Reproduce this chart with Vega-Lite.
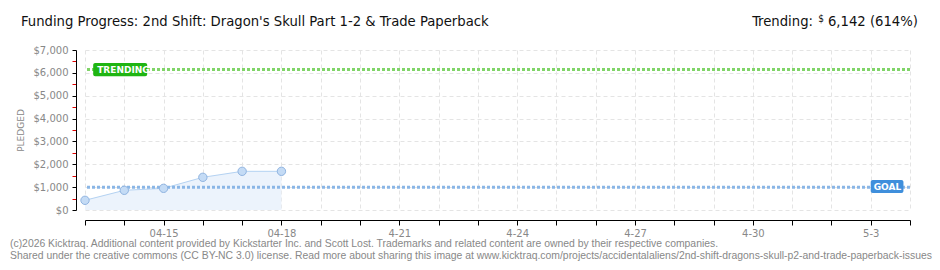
{
  "$schema": "https://vega.github.io/schema/vega-lite/v6.json",
  "width": 825,
  "height": 160,
  "autosize": {"type": "none"},
  "padding": {"left": 85, "top": 50, "right": 30, "bottom": 60},
  "background": "white",
  "config": {"view": {"stroke": null}},
  "datasets": {
    "pledges": [
      {"date": "2026-04-13", "pledged": 424},
      {"date": "2026-04-14", "pledged": 861},
      {"date": "2026-04-15", "pledged": 948},
      {"date": "2026-04-16", "pledged": 1430},
      {"date": "2026-04-17", "pledged": 1692},
      {"date": "2026-04-18", "pledged": 1692}
    ]
  },
  "layer": [
    {
      "data": {"name": "pledges"},
      "mark": {"type": "area", "color": "#ecf3fc", "opacity": 1},
      "encoding": {
        "x": {
          "field": "date", "type": "temporal",
          "scale": {"type": "utc", "domain": [{"year": 2026, "month": 4, "date": 13, "utc": true}, {"year": 2026, "month": 5, "date": 4, "utc": true}]},
          "axis": {
            "title": null,
            "offset": 10,
            "tickCount": {"interval": "day", "step": 1},
            "labelExpr": "indexof(['04-15','04-18'], utcFormat(datum.value,'%m-%d')) >= 0 ? utcFormat(datum.value,'%m-%d') : (indexof(['04-21','04-24','04-27','04-30','05-03'], utcFormat(datum.value,'%m-%d')) >= 0 ? utcFormat(datum.value,'%-m-%-d') : '')",
            "labelOverlap": false,
            "labelBound": false,
            "labelFlush": false,
            "labelFont": "DejaVu Sans",
            "labelFontSize": 10,
            "labelColor": "#888",
            "labelPadding": 3,
            "domainColor": "#000",
            "tickColor": "#000",
            "tickSize": 5,
            "grid": true,
            "gridColor": "#e4e4e4",
            "gridDash": [4, 3]
          }
        },
        "y": {
          "field": "pledged", "type": "quantitative",
          "scale": {"domain": [0, 7000], "nice": false},
          "axis": {
            "title": "PLEDGED",
            "titleFont": "DejaVu Sans",
            "titleFontSize": 9,
            "titleFontWeight": "normal",
            "titleColor": "#888",
            "titlePadding": 8,
            "offset": 9,
            "tickCount": 14,
            "labelExpr": "datum.value % 1000 == 0 ? '$' + format(datum.value, ',') : ''",
            "labelOverlap": false,
            "labelBound": false,
            "labelFlush": false,
            "labelFont": "DejaVu Sans",
            "labelFontSize": 10,
            "labelColor": "#888",
            "labelPadding": 4,
            "domainColor": "#000",
            "tickColor": {"condition": {"test": "datum.value % 1000 == 0", "value": "#000"}, "value": "#e00000"},
            "tickSize": 4,
            "grid": true,
            "gridColor": "#e4e4e4",
            "gridDash": [4, 3],
            "gridOpacity": {"condition": {"test": "datum.value % 1000 == 0", "value": 1}, "value": 0}
          }
        }
      }
    },
    {
      "data": {"name": "pledges"},
      "mark": {"type": "line", "color": "#b4d2f2", "strokeWidth": 1},
      "encoding": {
        "x": {"field": "date", "type": "temporal"},
        "y": {"field": "pledged", "type": "quantitative"}
      }
    },
    {
      "data": {"values": [{}]},
      "mark": {"type": "rule", "color": "#8ab6e6", "strokeWidth": 3, "strokeDash": [3, 2]},
      "encoding": {"y": {"datum": 1000, "type": "quantitative"}}
    },
    {
      "data": {"values": [{}]},
      "mark": {"type": "rule", "color": "#80d468", "strokeWidth": 3, "strokeDash": [3, 2]},
      "encoding": {"y": {"datum": 6142, "type": "quantitative"}}
    },
    {
      "data": {"name": "pledges"},
      "mark": {"type": "point", "filled": true, "color": "#c4dbf5", "stroke": "#8fb3e0", "strokeWidth": 1, "size": 70, "opacity": 1},
      "encoding": {
        "x": {"field": "date", "type": "temporal"},
        "y": {"field": "pledged", "type": "quantitative"}
      }
    },
    {
      "data": {"values": [{}]},
      "mark": {"type": "rect", "color": "#1fb512", "cornerRadius": 2},
      "encoding": {
        "x": {"datum": {"year": 2026, "month": 4, "date": 13, "hours": 5, "utc": true}, "type": "temporal"},
        "x2": {"datum": {"year": 2026, "month": 4, "date": 14, "hours": 14, "utc": true}},
        "y": {"datum": 5850, "type": "quantitative"},
        "y2": {"datum": 6430}
      }
    },
    {
      "data": {"values": [{"label": "TRENDING"}]},
      "mark": {"type": "text", "color": "white", "font": "DejaVu Sans", "fontSize": 9, "fontWeight": "bold", "align": "left", "baseline": "middle", "dx": 4},
      "encoding": {
        "x": {"datum": {"year": 2026, "month": 4, "date": 13, "hours": 5, "utc": true}, "type": "temporal"},
        "y": {"datum": 6142, "type": "quantitative"},
        "text": {"field": "label"}
      }
    },
    {
      "data": {"values": [{}]},
      "mark": {"type": "rect", "color": "#3f8fdc", "cornerRadius": 2},
      "encoding": {
        "x": {"datum": {"year": 2026, "month": 5, "date": 3, "utc": true}, "type": "temporal"},
        "x2": {"datum": {"year": 2026, "month": 5, "date": 3, "hours": 20, "utc": true}},
        "y": {"datum": 740, "type": "quantitative"},
        "y2": {"datum": 1310}
      }
    },
    {
      "data": {"values": [{"label": "GOAL"}]},
      "mark": {"type": "text", "color": "white", "font": "DejaVu Sans", "fontSize": 9, "fontWeight": "bold", "align": "left", "baseline": "middle", "dx": 3},
      "encoding": {
        "x": {"datum": {"year": 2026, "month": 5, "date": 3, "utc": true}, "type": "temporal"},
        "y": {"datum": 1028, "type": "quantitative"},
        "text": {"field": "label"}
      }
    },
    {
      "data": {"values": [{"label": "Funding Progress: 2nd Shift: Dragon's Skull Part 1-2 & Trade Paperback"}]},
      "mark": {"type": "text", "color": "#111", "font": "DejaVu Sans Condensed", "fontSize": 14.7, "align": "left", "baseline": "middle", "dx": -64, "dy": -28},
      "encoding": {
        "x": {"datum": {"year": 2026, "month": 4, "date": 13, "utc": true}, "type": "temporal"},
        "y": {"datum": 7000, "type": "quantitative"},
        "text": {"field": "label"}
      }
    },
    {
      "data": {"values": [{"label": "6,142 (614%)"}]},
      "mark": {"type": "text", "color": "#111", "font": "DejaVu Sans Condensed", "fontSize": 14.7, "align": "right", "baseline": "middle", "dx": 8, "dy": -28},
      "encoding": {
        "x": {"datum": {"year": 2026, "month": 5, "date": 4, "utc": true}, "type": "temporal"},
        "y": {"datum": 7000, "type": "quantitative"},
        "text": {"field": "label"}
      }
    },
    {
      "data": {"values": [{"label": "$"}]},
      "mark": {"type": "text", "color": "#111", "font": "DejaVu Sans Condensed", "fontSize": 10, "align": "right", "baseline": "middle", "dx": -86, "dy": -31},
      "encoding": {
        "x": {"datum": {"year": 2026, "month": 5, "date": 4, "utc": true}, "type": "temporal"},
        "y": {"datum": 7000, "type": "quantitative"},
        "text": {"field": "label"}
      }
    },
    {
      "data": {"values": [{"label": "Trending:"}]},
      "mark": {"type": "text", "color": "#111", "font": "DejaVu Sans Condensed", "fontSize": 14.7, "align": "right", "baseline": "middle", "dx": -97, "dy": -28},
      "encoding": {
        "x": {"datum": {"year": 2026, "month": 5, "date": 4, "utc": true}, "type": "temporal"},
        "y": {"datum": 7000, "type": "quantitative"},
        "text": {"field": "label"}
      }
    },
    {
      "data": {"values": [{"label": ["(c)2026 Kicktraq. Additional content provided by Kickstarter Inc. and Scott Lost. Trademarks and related content are owned by their respective companies.", "Shared under the creative commons (CC BY-NC 3.0) license. Read more about sharing this image at www.kicktraq.com/projects/accidentalaliens/2nd-shift-dragons-skull-p2-and-trade-paperback-issues"]}]},
      "mark": {"type": "text", "color": "#888", "font": "Liberation Sans", "fontSize": 10.4, "align": "left", "baseline": "middle", "dx": -75, "dy": 34, "lineHeight": 12},
      "encoding": {
        "x": {"datum": {"year": 2026, "month": 4, "date": 13, "utc": true}, "type": "temporal"},
        "y": {"datum": 0, "type": "quantitative"},
        "text": {"field": "label"}
      }
    }
  ]
}
